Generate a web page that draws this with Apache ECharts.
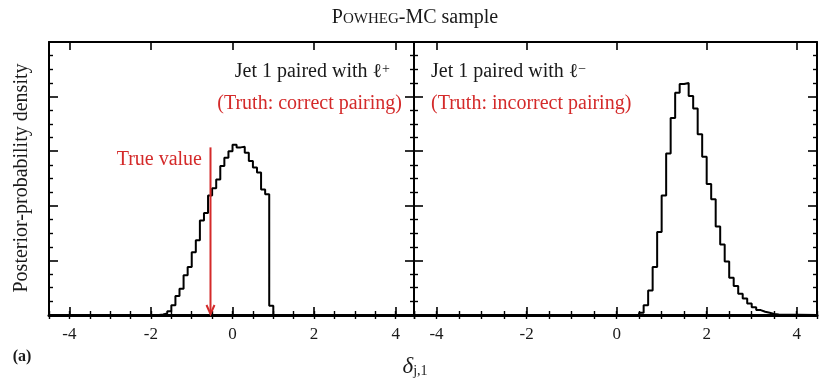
<!DOCTYPE html>
<html>
<head>
<meta charset="utf-8">
<title>Powheg-MC sample</title>
<script src="https://cdn.jsdelivr.net/npm/echarts@6/dist/echarts.min.js"></script>
<style type="text/css">
html,body{margin:0;padding:0;background:#fff;}
#chart{width:830px;height:383px;}
</style>
</head>
<body>
<div id="chart"></div>
<script type="text/javascript">
// bin left edges (width 0.1) and density
var leftBins = [-1.8, -1.7, -1.6, -1.5, -1.4, -1.3, -1.2, -1.1, -1.0, -0.9, -0.8, -0.7, -0.6, -0.5, -0.4,
    -0.3, -0.2, -0.1, 0.0, 0.1, 0.2, 0.3, 0.4, 0.5, 0.6, 0.7, 0.8, 0.9, 1.0];
var leftDensity = [0.01, 0.03, 0.07, 0.18, 0.35, 0.48, 0.73, 0.88, 1.15, 1.37, 1.73, 1.87, 2.19, 2.32, 2.48,
    2.73, 2.88, 3.0, 3.12, 3.07, 3.08, 2.97, 2.82, 2.70, 2.61, 2.30, 2.21, 0.17, 0];

var rightBins = [0.5, 0.6, 0.7, 0.8, 0.9, 1.0, 1.1, 1.2, 1.3, 1.4, 1.5, 1.6, 1.7, 1.8, 1.9, 2.0,
    2.1, 2.2, 2.3, 2.4, 2.5, 2.6, 2.7, 2.8, 2.9, 3.0, 3.1, 3.2, 3.3, 3.4, 3.5, 3.6];
var rightDensity = [0.04, 0.18, 0.45, 0.88, 1.52, 2.19, 2.96, 3.61, 4.07, 4.23, 4.25, 4.01, 3.78, 3.31, 2.90, 2.40,
    2.12, 1.62, 1.29, 0.98, 0.68, 0.53, 0.39, 0.30, 0.21, 0.14, 0.09, 0.06, 0.04, 0.02, 0.01, 0];

var xTicks = [-4, -2, 0, 2, 4];
var xMin = -4.5, xMax = 4.45;
var yMin = 0, yMax = 5;

var trueValue = -0.54;
var arrowTop = 3.07;

var FONT = "'Liberation Serif', 'DejaVu Serif', serif";
var RED = '#d42a2a';
var INK = '#1a1a1a';

function histData(bins, vals) {
    var d = [[xMin, 0]];
    for (var i = 0; i < bins.length; i++) {
        d.push([bins[i], vals[i]]);
    }
    d.push([xMax, 0]);
    return d;
}

function xAxes(grid) {
    var major = {
        gridIndex: grid, type: 'value', min: xMin, max: xMax,
        splitLine: {show: false},
        axisTick: {show: true, inside: true, length: 8, customValues: xTicks, lineStyle: {color: '#000', width: 1.6}}
    };
    var minor = {
        gridIndex: grid, type: 'value', min: xMin, max: xMax, interval: 0.5,
        splitLine: {show: false},
        axisLine: {show: false},
        axisLabel: {show: false},
        axisTick: {show: true, inside: true, length: 4, lineStyle: {color: '#000', width: 1.4}}
    };
    var bottom = echarts.util.merge({
        position: 'bottom',
        axisLine: {show: true, onZero: false, lineStyle: {color: '#000', width: 3}},
        axisLabel: {show: true, customValues: xTicks, margin: 11, color: INK, fontSize: 17, fontFamily: FONT}
    }, major, true);
    var bottomMinor = echarts.util.merge({position: 'bottom'}, minor, true);
    var top = echarts.util.merge({
        position: 'top',
        axisLine: {show: true, onZero: false, lineStyle: {color: '#000', width: 2}},
        axisLabel: {show: false}
    }, major, true);
    var topMinor = echarts.util.merge({position: 'top'}, minor, true);
    return [bottom, bottomMinor, top, topMinor];
}

function yAxes(grid) {
    var base = {
        gridIndex: grid, type: 'value', min: yMin, max: yMax, interval: 1,
        splitLine: {show: false},
        axisLabel: {show: false},
        axisLine: {show: true, onZero: false, lineStyle: {color: '#000', width: 2}},
        axisTick: {show: true, inside: true, length: 9, lineStyle: {color: '#000', width: 1.6}},
        minorTick: {show: true, splitNumber: 4, length: 4, lineStyle: {color: '#000', width: 1.4}},
        minorSplitLine: {show: false}
    };
    return [
        echarts.util.merge({position: 'left'}, base, true),
        echarts.util.merge({position: 'right'}, base, true)
    ];
}

var chart = echarts.init(document.getElementById('chart'), null, {renderer: 'canvas'});

var option = {
    backgroundColor: '#fff',
    animation: false,
    grid: [
        {left: 49, top: 42, width: 365, height: 273},
        {left: 414, top: 42, width: 403, height: 273}
    ],
    xAxis: xAxes(0).concat(xAxes(1)),
    yAxis: yAxes(0).concat(yAxes(1)),
    series: [
        {
            type: 'line', xAxisIndex: 0, yAxisIndex: 0, step: 'end',
            data: histData(leftBins, leftDensity),
            showSymbol: false, symbol: 'none',
            lineStyle: {color: '#000', width: 2}
        },
        {
            type: 'line', xAxisIndex: 4, yAxisIndex: 2, step: 'end',
            data: histData(rightBins, rightDensity),
            showSymbol: false, symbol: 'none',
            lineStyle: {color: '#000', width: 2}
        },
        {
            type: 'custom', xAxisIndex: 0, yAxisIndex: 0, z: 5,
            data: [[trueValue, arrowTop]],
            renderItem: function (params, api) {
                var p1 = api.coord([api.value(0), api.value(1)]);
                var p0 = api.coord([api.value(0), 0]);
                return {
                    type: 'group',
                    children: [
                        {type: 'line', shape: {x1: p1[0], y1: p1[1], x2: p0[0], y2: p0[1] - 1},
                            style: {stroke: RED, lineWidth: 2}},
                        {type: 'polyline', shape: {points: [[p0[0] - 4, p0[1] - 10], [p0[0], p0[1] - 1], [p0[0] + 4, p0[1] - 10]]},
                            style: {stroke: RED, lineWidth: 2, fill: null}}
                    ]
                };
            }
        }
    ],
    graphic: [
        {
            type: 'text', x: 415, y: 18,
            style: {
                text: '{a|P}{b|OWHEG}{a|-MC sample}',
                align: 'center', verticalAlign: 'middle',
                rich: {
                    a: {fontSize: 20, fontFamily: FONT, fill: INK, verticalAlign: 'bottom'},
                    b: {fontSize: 15, fontFamily: FONT, fill: INK, verticalAlign: 'bottom', padding: [0, 0, 1, 0]}
                }
            }
        },
        {
            type: 'text', x: 22, y: 178, rotation: Math.PI / 2,
            style: {
                text: 'Posterior-probability density', fontSize: 20, fontFamily: FONT, fill: INK,
                align: 'center', verticalAlign: 'middle'
            }
        },
        {
            type: 'text', x: 390, y: 72,
            style: {
                text: '{n|Jet 1 paired with ℓ}{s|+}',
                align: 'right', verticalAlign: 'middle',
                rich: {
                    n: {fontSize: 20, fontFamily: FONT, fill: INK},
                    s: {fontSize: 14, fontFamily: FONT, fill: INK, verticalAlign: 'top'}
                }
            }
        },
        {
            type: 'text', x: 402, y: 104,
            style: {
                text: '(Truth: correct pairing)', fontSize: 20, fontFamily: FONT, fill: RED,
                align: 'right', verticalAlign: 'middle'
            }
        },
        {
            type: 'text', x: 431, y: 72,
            style: {
                text: '{n|Jet 1 paired with ℓ}{s|−}',
                align: 'left', verticalAlign: 'middle',
                rich: {
                    n: {fontSize: 20, fontFamily: FONT, fill: INK},
                    s: {fontSize: 14, fontFamily: FONT, fill: INK, verticalAlign: 'top'}
                }
            }
        },
        {
            type: 'text', x: 431, y: 104,
            style: {
                text: '(Truth: incorrect pairing)', fontSize: 20, fontFamily: FONT, fill: RED,
                align: 'left', verticalAlign: 'middle'
            }
        },
        {
            type: 'text', x: 202, y: 160,
            style: {
                text: 'True value', fontSize: 20, fontFamily: FONT, fill: RED,
                align: 'right', verticalAlign: 'middle'
            }
        },
        {
            type: 'text', x: 22, y: 357,
            style: {
                text: '(a)', fontSize: 16, fontWeight: 'bold', fontFamily: FONT, fill: INK,
                align: 'center', verticalAlign: 'middle'
            }
        },
        {
            type: 'text', x: 415, y: 367,
            style: {
                text: '{d|δ}{s|j,1}',
                align: 'center', verticalAlign: 'middle',
                rich: {
                    d: {fontSize: 23, fontStyle: 'italic', fontFamily: FONT, fill: INK},
                    s: {fontSize: 14, fontFamily: FONT, fill: INK, verticalAlign: 'bottom'}
                }
            }
        }
    ]
};

chart.setOption(option);
</script>
</body>
</html>
